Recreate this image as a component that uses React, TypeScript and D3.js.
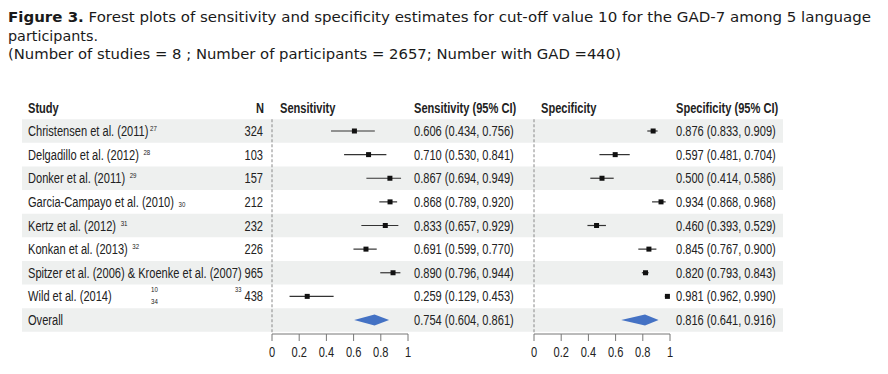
import React from 'react';
import * as d3 from 'd3';

const studies = [
	'Christensen et al. (2011)',
	'Delgadillo et al. (2012)',
	'Donker et al. (2011)',
	'Garcia-Campayo et al. (2010)',
	'Kertz et al. (2012)',
	'Konkan et al. (2013)',
	'Spitzer et al. (2006) & Kroenke et al. (2007)',
	'Wild et al. (2014)',
];
// reference numbers shown next to each study
const refs = ['27', '28', '29', '30', '31', '32', '', '10'];
const nValues = [324, 103, 157, 212, 232, 226, 965, 438];

const sensEst = [0.606, 0.71, 0.867, 0.868, 0.833, 0.691, 0.89, 0.259];
const sensLo = [0.434, 0.53, 0.694, 0.789, 0.657, 0.599, 0.796, 0.129];
const sensHi = [0.756, 0.841, 0.949, 0.92, 0.929, 0.77, 0.944, 0.453];

const specEst = [0.876, 0.597, 0.5, 0.934, 0.46, 0.845, 0.82, 0.981];
const specLo = [0.833, 0.481, 0.414, 0.868, 0.393, 0.767, 0.793, 0.962];
const specHi = [0.909, 0.704, 0.586, 0.968, 0.529, 0.9, 0.843, 0.99];

const sensOverall = [0.754, 0.604, 0.861];
const specOverall = [0.816, 0.641, 0.916];

const axisTicks = [0, 0.2, 0.4, 0.6, 0.8, 1];

const W = 888;
const H = 374;
const font = "'Liberation Sans', Arial, sans-serif";
const titleFont = "'DejaVu Sans', sans-serif";
const txt = '#222';
const band = '#eef0ef';
const blue = '#4472c4';
const squeeze = 0.765; // no narrow font installed, so squash the regular one

const fmt = (v: number) => v.toFixed(3);
const ciText = (e: number, lo: number, hi: number) => `${fmt(e)} (${fmt(lo)}, ${fmt(hi)})`;

// condensed text: scale horizontally around its anchor
const NText: React.FC<{
	x: number;
	y: number;
	anchor?: string;
	size?: number;
	bold?: boolean;
	children: React.ReactNode;
}> = ({ x, y, anchor = 'start', size = 14.5, bold = false, children }) => (
	<text
		transform={`translate(${x},${y}) scale(${squeeze},1)`}
		textAnchor={anchor}
		fontSize={size}
		fontFamily={font}
		fontWeight={bold ? 'bold' : 'normal'}
		fill={txt}
	>
		{children}
	</text>
);

const App: React.FC = () => {
	const rowLabels = [...studies, 'Overall'];
	const y = d3
		.scalePoint<number>()
		.domain(d3.range(rowLabels.length))
		.range([131, 320]);
	const rowH = 23.5;
	const xSens = d3.scaleLinear().domain([0, 1]).range([272, 408]);
	const xSpec = d3.scaleLinear().domain([0, 1]).range([534, 670]);
	const axisY = 334;
	const headY = 113;

	const diamond = (x: d3.ScaleLinear<number, number>, o: number[], cy: number) =>
		`M${x(o[1])},${cy} L${x(o[0])},${cy - 5.5} L${x(o[2])},${cy} L${x(o[0])},${cy + 5.5} Z`;

	const panel = (
		x: d3.ScaleLinear<number, number>,
		est: number[],
		lo: number[],
		hi: number[],
		overall: number[],
		key: string
	) => (
		<g key={key}>
			<line
				x1={x(0)}
				x2={x(0)}
				y1={y(0)! - rowH / 2}
				y2={axisY}
				stroke="#888"
				strokeWidth={1}
				strokeDasharray="3,2"
			/>
			{est.map((e, i) => (
				<g key={i}>
					<line x1={x(lo[i])} x2={x(hi[i])} y1={y(i)} y2={y(i)} stroke="#333" strokeWidth={1.2} />
					<rect x={x(e) - 2.5} y={y(i)! - 2.5} width={5} height={5} fill="#111" />
				</g>
			))}
			<path d={diamond(x, overall, y(8)!)} fill={blue} />
			<line x1={x(0)} x2={x(1)} y1={axisY} y2={axisY} stroke="#777" strokeWidth={1} />
			{axisTicks.map((t) => (
				<g key={t}>
					<line x1={x(t)} x2={x(t)} y1={axisY} y2={axisY + 7} stroke="#777" strokeWidth={1} />
					<NText x={x(t)} y={axisY + 23} anchor="middle">
						{String(t)}
					</NText>
				</g>
			))}
		</g>
	);

	return (
		<div style={{ position: 'absolute', left: 0, top: 0 }}>
			<svg width={W} height={H} style={{ display: 'block', background: '#fff' }}>
				<text x={8} y={22} fontSize={14} fontFamily={titleFont} fill="#1a1a1a" textLength={863} lengthAdjust="spacingAndGlyphs">
					<tspan fontWeight="bold">Figure 3.</tspan> Forest plots of sensitivity and specificity estimates for
					cut-off value 10 for the GAD-7 among 5 language
				</text>
				<text x={8} y={41} fontSize={14} fontFamily={titleFont} fill="#1a1a1a" textLength={90} lengthAdjust="spacingAndGlyphs">
					participants.
				</text>
				<text x={8} y={59} fontSize={14} fontFamily={titleFont} fill="#1a1a1a" textLength={613} lengthAdjust="spacingAndGlyphs">
					(Number of studies = 8 ; Number of participants = 2657; Number with GAD =440)
				</text>

				{rowLabels.map((_, i) =>
					i % 2 === 0 ? (
						<rect key={i} x={22} y={y(i)! - rowH / 2} width={761} height={rowH} fill={band} />
					) : null
				)}

				<NText x={28} y={headY} bold>Study</NText>
				<NText x={256} y={headY} bold>N</NText>
				<NText x={280} y={headY} bold>Sensitivity</NText>
				<NText x={414} y={headY} bold>Sensitivity (95% CI)</NText>
				<NText x={541} y={headY} bold>Specificity</NText>
				<NText x={676} y={headY} bold>Specificity (95% CI)</NText>

				{rowLabels.map((s, i) => (
					<NText key={s} x={28} y={y(i)! + 5}>
						{s}
						{i < 6 && refs[i] ? (
							<tspan dx={i === 0 ? 2 : 6} dy={i === 3 ? 0 : -5} fontSize={8}>
								{refs[i]}
							</tspan>
						) : null}
					</NText>
				))}
				<NText x={151} y={y(7)! - 4} size={8}>{refs[7]}</NText>
				<NText x={151} y={y(7)! + 8} size={8}>34</NText>
				<NText x={235} y={y(7)! - 4} size={7.5}>33</NText>
				{nValues.map((n, i) => (
					<NText key={i} x={263} y={y(i)! + 5} anchor="end">
						{n}
					</NText>
				))}
				{sensEst.map((e, i) => (
					<NText key={i} x={414} y={y(i)! + 5}>
						{ciText(e, sensLo[i], sensHi[i])}
					</NText>
				))}
				<NText x={414} y={y(8)! + 5}>{ciText(sensOverall[0], sensOverall[1], sensOverall[2])}</NText>
				{specEst.map((e, i) => (
					<NText key={i} x={676} y={y(i)! + 5}>
						{ciText(e, specLo[i], specHi[i])}
					</NText>
				))}
				<NText x={676} y={y(8)! + 5}>{ciText(specOverall[0], specOverall[1], specOverall[2])}</NText>

				{panel(xSens, sensEst, sensLo, sensHi, sensOverall, 'sens')}
				{panel(xSpec, specEst, specLo, specHi, specOverall, 'spec')}
			</svg>
		</div>
	);
};

export default App;
